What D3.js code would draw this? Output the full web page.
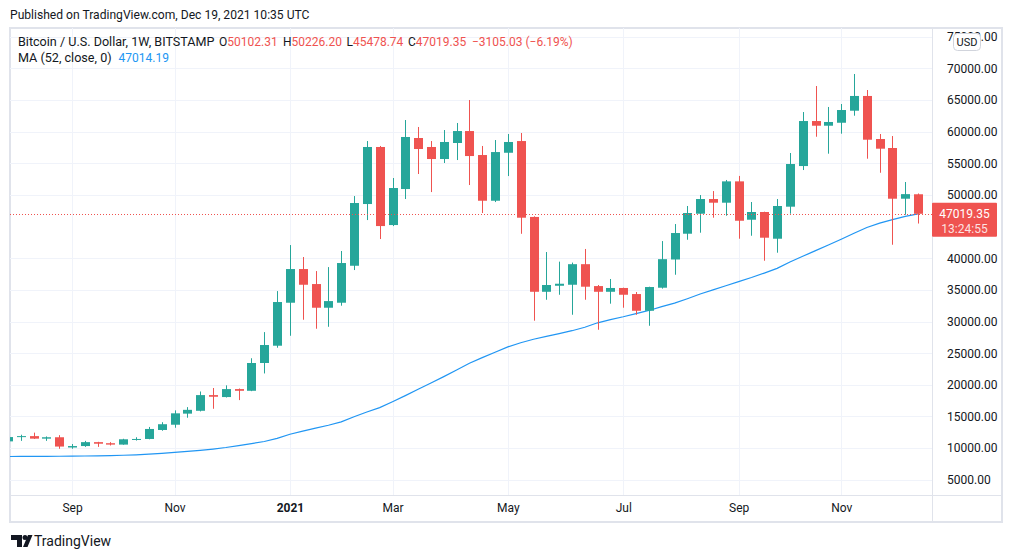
<!DOCTYPE html>
<html>
<head>
<meta charset="utf-8">
<script src="https://cdn.jsdelivr.net/npm/d3@7"></script>
<style>
  html, body { margin: 0; padding: 0; background: #fff; }
  svg { display: block; font-family: Roboto, "Open Sans", sans-serif; }
</style>
</head>
<body>
<div id="chart"></div>
<script>
// weekly BTC/USD candles, Aug 3 2020 .. Dec 13 2021
var firstWeek = "2020-08-03", lastWeek = "2021-12-13";

var opens = [11070, 11750, 11900, 11500, 11720,
  10100, 10330, 10950, 10780, 10560, 11300, 11450, 12870, 13700, 15450, 15900, 18380, 18070, 19330, 19060, 23450, 26180,
  32970, 38290, 35920, 32180, 32970, 38810, 48560, 57570, 45240, 50930, 58990, 57570, 55670, 58200, 60090, 56300, 49080,
  56660, 58510, 46520, 34700, 35650, 35810, 39060, 35600, 34700, 35300, 34340, 31700, 35340, 39800, 43870, 47030, 49350,
  48770, 52140, 46080, 47300, 43080, 48140, 54560, 61670, 60930, 61400, 63300, 65630, 58830, 57410, 49400, 50102.31];
var highs = [11900, 12120, 12450, 11850, 12050,
  10650, 11150, 11000, 10950, 11480, 11720, 13350, 14100, 15970, 16480, 18950, 19500, 19920, 19420, 24200, 28330, 34810,
  42080, 40190, 37970, 38600, 41140, 49820, 58510, 57730, 52670, 61830, 60730, 58510, 60250, 61360, 64990, 57730, 58670,
  59620, 59780, 46620, 40980, 39460, 39310, 41460, 35770, 36720, 35350, 34660, 35500, 42710, 45400, 48250, 49980, 50610,
  52360, 53000, 48880, 47350, 49350, 56620, 63090, 67200, 63890, 64360, 69100, 66570, 59620, 59300, 52040, 50226.20];
var lows = [11000, 11150, 11450, 11150, 9900,
  9900, 10200, 10200, 10420, 10540, 11200, 11400, 12750, 13220, 14800, 15800, 16220, 18000, 17590, 19000, 21800, 25860,
  27750, 30280, 28860, 29170, 32500, 38130, 46030, 43030, 45080, 49350, 53300, 50450, 55040, 55510, 51560, 47140, 48870,
  52980, 43860, 30130, 33440, 34230, 31070, 33440, 28700, 32820, 32180, 31070, 29330, 35200, 37390, 42920, 44030, 46400,
  46710, 43080, 43550, 39600, 40870, 47030, 53930, 59190, 56510, 59670, 62510, 55720, 53500, 42130, 46870, 45478.74];
var closes = [11750, 11900, 11500, 11720, 10250,
  10330, 10950, 10700, 10560, 11400, 11450, 13030, 13780, 15500, 16050, 18380, 18120, 19330, 19060, 23450, 26290, 33080,
  38290, 35810, 32180, 33230, 39240, 48720, 57570, 45080, 51090, 59150, 57250, 55670, 58360, 60090, 56140, 49080, 56770,
  58360, 46400, 34700, 35770, 35970, 39060, 35500, 34700, 35300, 34230, 31700, 35450, 39850, 43980, 47140, 49350, 48770,
  52140, 45920, 47300, 43240, 48250, 54880, 61670, 60930, 61520, 63410, 65630, 58720, 57300, 49400, 50124.38, 47019.35];
// 52-week moving average
var ma52 = [8680, 8690, 8700, 8710, 8720,
  8740, 8760, 8790, 8830, 8880, 8950, 9050, 9170, 9320, 9480, 9660, 9860, 10100, 10400, 10720, 11050, 11550,
  12200, 12700, 13150, 13620, 14150, 14950, 15700, 16400, 17330, 18300, 19300, 20300, 21300, 22350, 23400, 24300, 25150,
  26000, 26650, 27200, 27650, 28100, 28550, 29100, 29800, 30300, 30750, 31250, 31750, 32350, 32900, 33600, 34350, 35000,
  35650, 36300, 36950, 37650, 38400, 39400, 40300, 41200, 42100, 43000, 43950, 44850, 45550, 46100, 46600, 47014.19];

var monthTicks = ["2020-09-07", "2020-11-02", "2021-01-04", "2021-03-01", "2021-05-03", "2021-07-05", "2021-09-06", "2021-11-01"];
var monthLabels = ["Sep", "Nov", "2021", "Mar", "May", "Jul", "Sep", "Nov"];
var priceTicks = [5000, 10000, 15000, 20000, 25000, 30000, 35000, 40000, 50000, 55000, 60000, 65000, 70000, 75000];

var parse = d3.utcParse("%Y-%m-%d");
var weeks = d3.utcMonday.range(parse(firstWeek), d3.utcDay.offset(parse(lastWeek), 1));
var bars = weeks.map(function (d, i) {
  return { date: d, o: opens[i], h: highs[i], l: lows[i], c: closes[i], ma: ma52[i] };
});
var last = bars[bars.length - 1];
var prev = bars[bars.length - 2];

var W = 1012, H = 558;
var plot = { left: 10, top: 28, right: 932, bottom: 495 };
var GREEN = "#26a69a", RED = "#ef5350", TEXT = "#131722";

var x = d3.scaleUtc()
  .domain([parse(monthTicks[0]), parse(monthTicks[7])])
  .range([72, 841.2]);
var y = d3.scaleLinear().domain([5000, 70000]).range([479.8, 68.3]);

var svg = d3.select("#chart").append("svg").attr("width", W).attr("height", H);
svg.append("rect").attr("width", W).attr("height", H).attr("fill", "#fff");

svg.append("text").attr("x", 10).attr("y", 19).attr("font-size", 12.1).attr("fill", TEXT)
  .text("Published on TradingView.com, Dec 19, 2021 10:35 UTC");

// frame
svg.append("rect").attr("x", 10).attr("y", 28).attr("width", 992).attr("height", 494)
  .attr("fill", "#fff").attr("stroke", "#e0e3eb").attr("stroke-width", 2);

svg.append("clipPath").attr("id", "plotclip").append("rect")
  .attr("x", plot.left).attr("y", plot.top)
  .attr("width", plot.right - plot.left).attr("height", plot.bottom - plot.top);

var grid = svg.append("g").attr("clip-path", "url(#plotclip)");
grid.selectAll(".hg").data(priceTicks).enter().append("line")
  .attr("x1", plot.left).attr("x2", plot.right)
  .attr("y1", function (d) { return Math.round(y(d)) + 0.5; })
  .attr("y2", function (d) { return Math.round(y(d)) + 0.5; })
  .attr("stroke", "#f0f3fa").attr("stroke-width", 1);
grid.selectAll(".vg").data(monthTicks).enter().append("line")
  .attr("y1", plot.top).attr("y2", plot.bottom)
  .attr("x1", function (d) { return Math.round(x(parse(d))) + 0.5; })
  .attr("x2", function (d) { return Math.round(x(parse(d))) + 0.5; })
  .attr("stroke", "#f0f3fa").attr("stroke-width", 1);

// axes separators
svg.append("line").attr("x1", 10).attr("x2", 1002).attr("y1", 495.5).attr("y2", 495.5)
  .attr("stroke", "#e0e3eb");
svg.append("line").attr("x1", 932.5).attr("x2", 932.5).attr("y1", 28).attr("y2", 522)
  .attr("stroke", "#e0e3eb");

var g = svg.append("g").attr("clip-path", "url(#plotclip)");

// MA line
g.append("path").datum(bars)
  .attr("fill", "none").attr("stroke", "#2196f3").attr("stroke-width", 1.2)
  .attr("d", d3.line().x(function (d) { return x(d.date); }).y(function (d) { return y(d.ma); }));

// candles
var bw = 9;
var candle = g.selectAll(".candle").data(bars).enter().append("g");
candle.append("line")
  .attr("x1", function (d) { return Math.round(x(d.date)) + 0.5; })
  .attr("x2", function (d) { return Math.round(x(d.date)) + 0.5; })
  .attr("y1", function (d) { return y(d.h); })
  .attr("y2", function (d) { return y(d.l); })
  .attr("stroke", function (d) { return d.c >= d.o ? GREEN : RED; })
  .attr("stroke-width", 1);
candle.append("rect")
  .attr("x", function (d) { return Math.round(x(d.date)) + 0.5 - bw / 2; })
  .attr("width", bw)
  .attr("y", function (d) { return y(Math.max(d.o, d.c)); })
  .attr("height", function (d) { return Math.max(1, Math.abs(y(d.o) - y(d.c))); })
  .attr("fill", function (d) { return d.c >= d.o ? GREEN : RED; });

// last price dotted line
g.append("line").attr("x1", plot.left).attr("x2", plot.right)
  .attr("y1", Math.round(y(last.c)) + 0.5).attr("y2", Math.round(y(last.c)) + 0.5)
  .attr("stroke", RED).attr("stroke-width", 1).attr("stroke-dasharray", "1 2");

// price axis
var yAxis = svg.append("g").attr("transform", "translate(932,0)")
  .call(d3.axisRight(y).tickValues(priceTicks).tickSize(0).tickPadding(15)
    .tickFormat(d3.format(".2f")));
yAxis.select(".domain").remove();
yAxis.selectAll("text").attr("font-size", 12).attr("fill", TEXT)
  .attr("font-family", "Roboto, sans-serif");

// time axis
var xAxis = svg.append("g").attr("transform", "translate(0,495)")
  .call(d3.axisBottom(x).tickValues(monthTicks.map(parse)).tickSize(0).tickPadding(8)
    .tickFormat(function (d, i) { return monthLabels[i]; }));
xAxis.select(".domain").remove();
xAxis.selectAll("text").attr("font-size", 12).attr("fill", TEXT)
  .attr("font-family", "Roboto, sans-serif")
  .attr("font-weight", function (d, i) { return monthLabels[i] === "2021" ? "bold" : "normal"; });

// last price tag
var tagY = y(last.c);
svg.append("rect").attr("x", 932).attr("y", tagY - 11).attr("width", 65).attr("height", 34)
  .attr("rx", 1).attr("fill", RED);
svg.append("text").attr("x", 964.5).attr("y", tagY + 4).attr("text-anchor", "middle")
  .attr("font-size", 12).attr("fill", "#fff").text(d3.format(".2f")(last.c));
svg.append("text").attr("x", 964.5).attr("y", tagY + 19).attr("text-anchor", "middle")
  .attr("font-size", 12).attr("fill", "#fff").attr("fill-opacity", 0.85).text("13:24:55");

// USD badge
svg.append("rect").attr("x", 953.5).attr("y", 33.5).attr("width", 27).attr("height", 17).attr("rx", 4)
  .attr("fill", "#fff").attr("stroke", "#d1d4dc");
svg.append("text").attr("x", 967).attr("y", 46).attr("text-anchor", "middle")
  .attr("font-size", 11).attr("fill", TEXT).text("USD");

// legend
var fmt = d3.format(".2f");
var change = last.c - prev.c;
var leg = svg.append("text").attr("y", 46).attr("font-size", 12).attr("fill", TEXT);
leg.append("tspan").attr("x", 18).attr("font-size", 12.6).text("Bitcoin / U.S. Dollar, 1W, BITSTAMP");
var legX = [219, 283, 346.5, 408];
[["O", last.o], ["H", last.h], ["L", last.l], ["C", last.c]].forEach(function (p, i) {
  leg.append("tspan").attr("x", legX[i]).text(p[0]);
  leg.append("tspan").attr("fill", RED).text(fmt(p[1]));
});
leg.append("tspan").attr("x", 472).attr("fill", RED)
  .text("\u2212" + fmt(-change) + " (\u2212" + fmt(-change / prev.c * 100) + "%)");

var leg2 = svg.append("text").attr("x", 18).attr("y", 62).attr("font-size", 12.6).attr("fill", TEXT);
leg2.append("tspan").text("MA (52, close, 0)");
leg2.append("tspan").attr("dx", 7).attr("font-size", 12).attr("fill", "#2196f3").text(fmt(last.ma));

// footer logo
var logo = svg.append("g").attr("fill", TEXT);
logo.append("path").attr("d", "M11 535h11v12h-5v-7h-6z");
logo.append("circle").attr("cx", 25).attr("cy", 537.5).attr("r", 2.5);
logo.append("path").attr("d", "M28 535h4.5l-5 12h-4.5z");
svg.append("text").attr("x", 34).attr("y", 546).attr("font-size", 14).attr("fill", TEXT)
  .text("TradingView");
</script>
</body>
</html>
